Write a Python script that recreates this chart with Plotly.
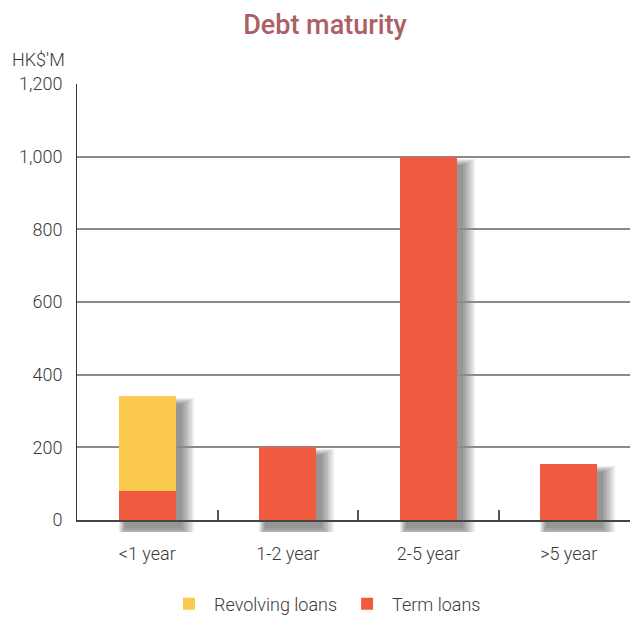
import plotly.graph_objects as go

categories = ["<1 year", "1-2 year", "2-5 year", ">5 year"]
term_loans = [80, 200, 1000, 155]
revolving_loans = [260, 0, 0, 0]
y_ticks = [0, 200, 400, 600, 800, 1000, 1200]

RED = "#f05a3e"
YELLOW = "#fdca50"
FONT = "Roboto"
TXT = "#3a3a3a"

totals = [a + b for a, b in zip(term_loans, revolving_loans)]

W, H = 630, 618
ml, mt, mb = 77, 84, 86
plot_h = H - mt - mb          # 448 incl. 12px shadow strip
extra = 12
main_h = plot_h - extra       # 436
ppy = main_h / 1200.0
cat_px = 140.5
bar_w = 57 / cat_px

fig = go.Figure()

# soft drop shadows (drawn in an underlying subplot that extends below the axis)
dx, dy = 6, 8
for s in [0, 2, 4, 6, 8, 10, 12]:
    fig.add_trace(go.Bar(
        x=categories,
        y=[t + 1.5 * s / ppy for t in totals],
        base=[t * 0 - (dy + s) / ppy for t in totals],
        offset=(-28.5 + dx - 0.5 * s) / cat_px,
        width=(57 + 1.5 * s) / cat_px,
        marker=dict(color="rgba(0,0,0,0.07)", line=dict(width=0)),
        xaxis="x", yaxis="y", showlegend=False, hoverinfo="skip",
    ))

fig.add_trace(go.Bar(x=categories, y=term_loans, name="Term loans",
                     marker=dict(color=RED, line=dict(width=0)),
                     width=bar_w, xaxis="x2", yaxis="y2"))
fig.add_trace(go.Bar(x=categories, y=revolving_loans, name="Revolving loans",
                     marker=dict(color=YELLOW, line=dict(width=0)),
                     width=bar_w, xaxis="x2", yaxis="y2"))

xr = [-0.5, -0.5 + (W - ml) / cat_px]

fig.update_layout(
    width=W, height=H,
    margin=dict(l=ml, r=0, t=mt, b=mb, pad=0, autoexpand=False),
    paper_bgcolor="white", plot_bgcolor="rgba(0,0,0,0)",
    barmode="stack", bargap=0,
    font=dict(family=FONT, size=18, color=TXT, weight=300),
    title=dict(text="Debt maturity", x=325 / W, xref="container", xanchor="center",
               y=1 - 25 / H, yref="container", yanchor="middle",
               font=dict(family=FONT, size=27, color="#ac6065", weight=500)),
    xaxis=dict(domain=[0, 1], range=xr, visible=False, anchor="y", fixedrange=True),
    yaxis=dict(domain=[0, 1], range=[-extra / ppy, 1200], visible=False, anchor="x"),
    xaxis2=dict(domain=[0, 1], range=xr, anchor="y2", type="category",
                showline=True, linecolor="#444", linewidth=2,
                ticks="inside", tickson="boundaries", ticklen=10, tickwidth=1.5,
                tickcolor="#555", showgrid=False, ticklabelstandoff=16,
                tickfont=dict(size=18, color=TXT)),
    yaxis2=dict(domain=[extra / plot_h, 1], range=[0, 1200], anchor="x2",
                tickvals=y_ticks, tickformat=",", showgrid=True,
                gridcolor="#8a8a8a", gridwidth=1.5, zeroline=False,
                showline=True, linecolor="#333", linewidth=1, ticks="",
                ticklabelstandoff=10, tickfont=dict(size=18, color=TXT)),
    legend=dict(orientation="h", x=(325 - ml) / (W - ml), xanchor="center",
                y=(H - mb - 604) / plot_h, yanchor="middle", traceorder="reversed",
                font=dict(size=18, color=TXT), itemwidth=40,
                bgcolor="rgba(0,0,0,0)"),
    annotations=[dict(text="HK$'M", xref="paper", yref="paper",
                      x=(67 - ml) / (W - ml), y=(H - mb - 60) / plot_h,
                      xanchor="right", yanchor="middle", showarrow=False,
                      font=dict(size=18, color=TXT))],
)

fig.write_html("out.html")
